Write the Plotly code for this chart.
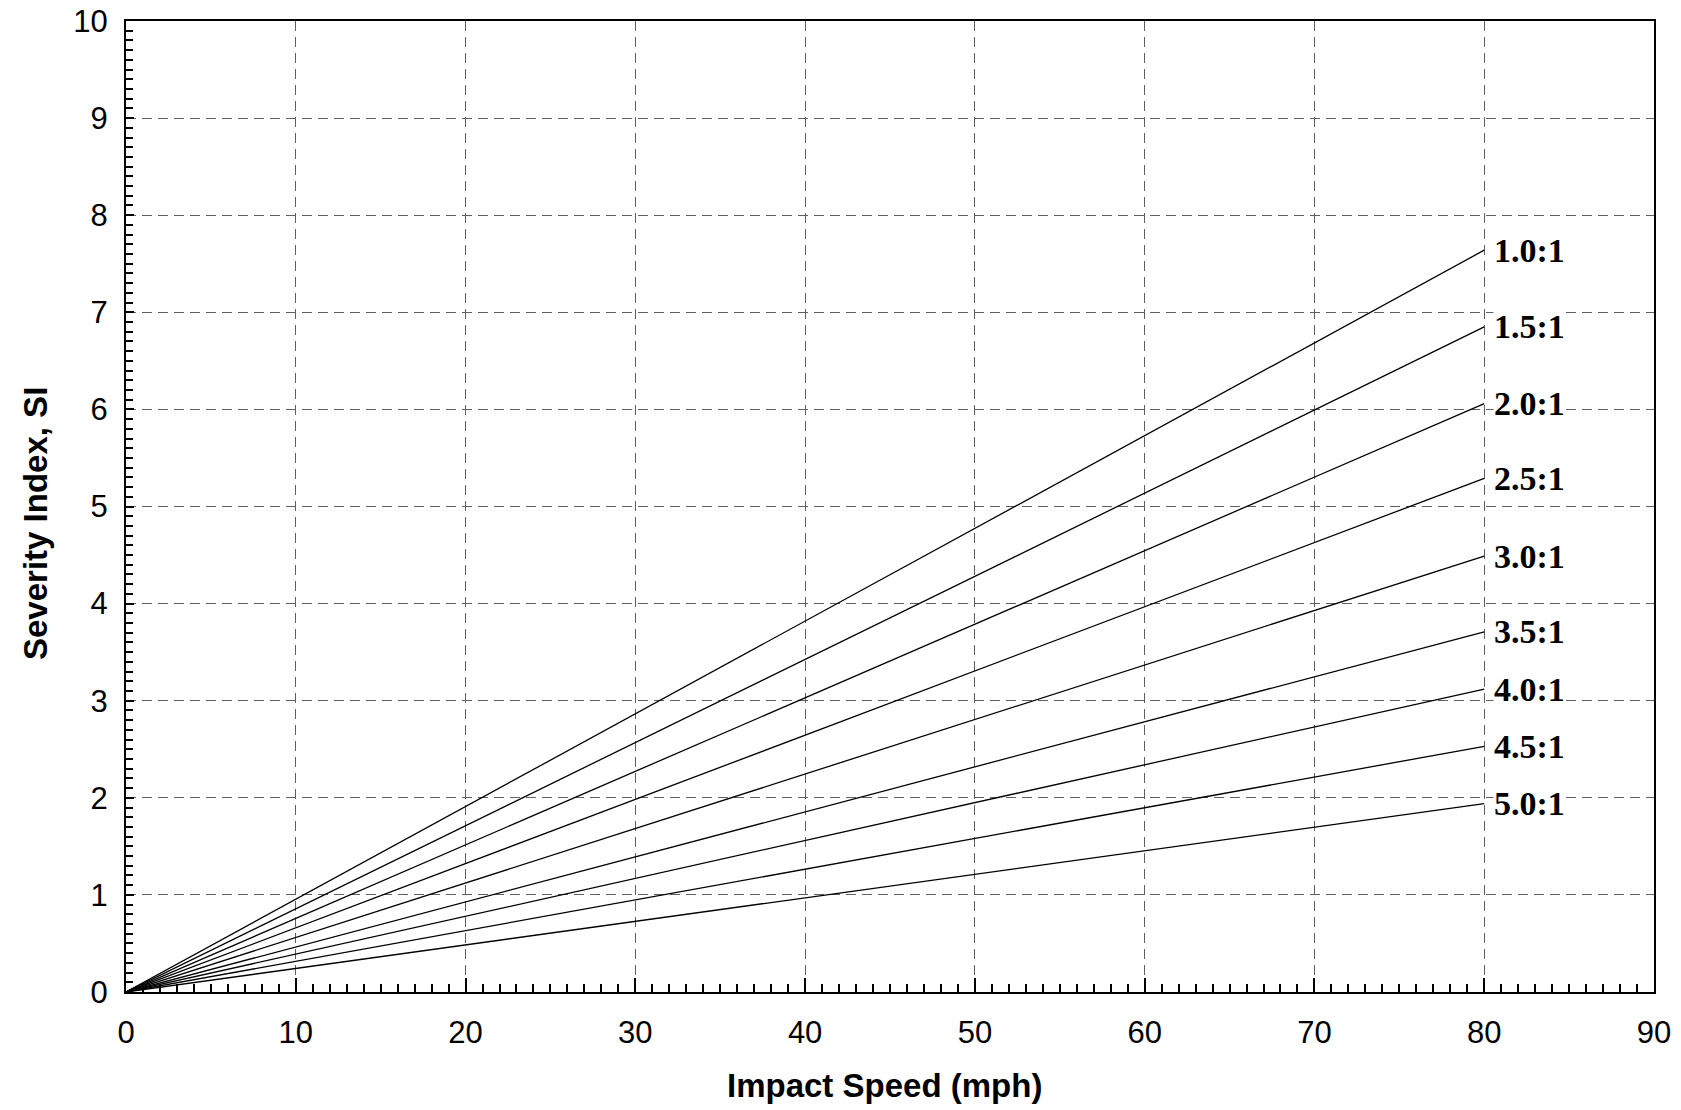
import plotly.graph_objects as go

# ---- data ----
speed_mph = [0, 80]
ratios = ["1.0:1", "1.5:1", "2.0:1", "2.5:1", "3.0:1", "3.5:1", "4.0:1", "4.5:1", "5.0:1"]
si_at_80 = [7.64, 6.85, 6.06, 5.29, 4.49, 3.71, 3.12, 2.53, 1.94]
x_ticks = [0, 10, 20, 30, 40, 50, 60, 70, 80, 90]
y_ticks = [0, 1, 2, 3, 4, 5, 6, 7, 8, 9, 10]

W, H = 1681, 1110
ML, MR, MT, MB = 126, 27, 21, 118
PW, PH = W - ML - MR, H - MT - MB

fig = go.Figure()
for r, v in zip(ratios, si_at_80):
    fig.add_trace(go.Scatter(
        x=speed_mph, y=[0, v], mode="lines", name=r, showlegend=False,
        line=dict(color="black", width=1.3)))
    fig.add_annotation(
        x=speed_mph[-1], y=v, text="<b>" + r + "</b>", showarrow=False,
        xanchor="left", yanchor="middle", xshift=9,
        font=dict(family="Liberation Serif", size=34, color="black"),
        bgcolor="white", borderpad=0)

tickfont = dict(family="Liberation Sans", size=31, color="black")
grid = dict(showgrid=True, gridcolor="#606060", gridwidth=1.3, griddash="10px,6px")

fig.update_xaxes(
    range=[0, 90], tickvals=x_ticks, ticktext=[str(t) for t in x_ticks],
    showline=True, linecolor="black", linewidth=2, mirror=True,
    ticks="inside", ticklen=14, tickwidth=2, tickcolor="black",
    tickfont=tickfont, ticklabelstandoff=12, zeroline=False, automargin=False,
    minor=dict(dtick=1, ticks="inside", ticklen=8, tickwidth=1.5,
               tickcolor="black", showgrid=False),
    **grid)
fig.update_yaxes(
    range=[0, 10], tickvals=y_ticks, ticktext=[str(t) for t in y_ticks],
    showline=True, linecolor="black", linewidth=2, mirror=True,
    ticks="inside", ticklen=8, tickwidth=1.5, tickcolor="black",
    tickfont=tickfont, ticklabelstandoff=10, zeroline=False, automargin=False,
    minor=dict(dtick=0.1, ticks="inside", ticklen=7, tickwidth=1.5,
               tickcolor="black", showgrid=False),
    **grid)

titlefont = dict(family="Liberation Sans", size=33, color="black")
fig.add_annotation(
    xref="paper", yref="paper", x=(884 - ML) / PW, y=(MT + PH - 1085) / PH,
    text="<b>Impact Speed (mph)</b>", showarrow=False,
    xanchor="center", yanchor="middle", font=titlefont)
fig.add_annotation(
    xref="paper", yref="paper", x=(35 - ML) / PW, y=(MT + PH - 524) / PH,
    text="<b>Severity Index, SI</b>", showarrow=False, textangle=-90,
    xanchor="center", yanchor="middle", font=titlefont)

fig.update_layout(
    width=W, height=H, margin=dict(l=ML, r=MR, t=MT, b=MB, autoexpand=False),
    plot_bgcolor="white", paper_bgcolor="white", showlegend=False)

fig.write_html("out.html")
